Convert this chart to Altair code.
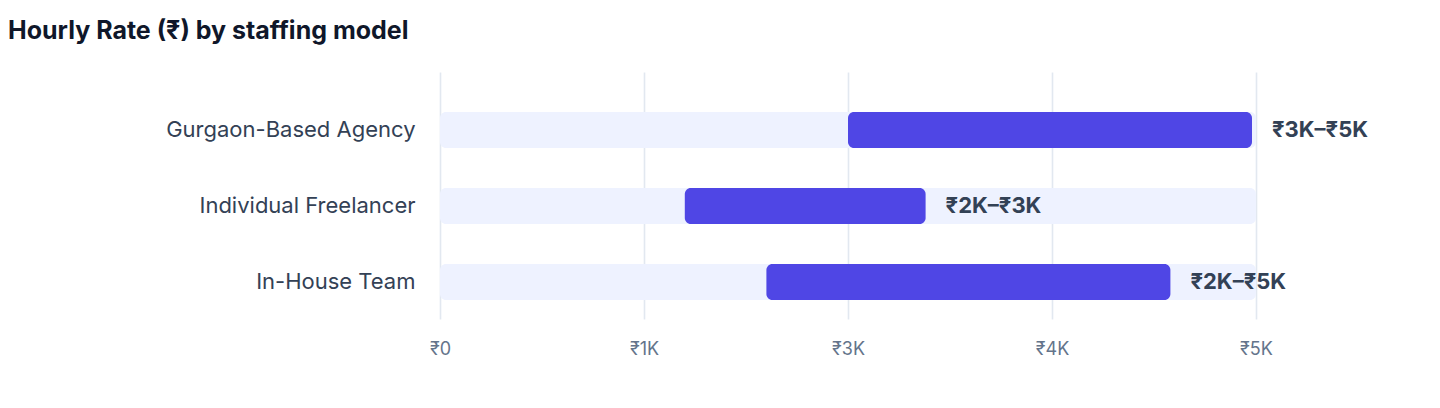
import altair as alt
import pandas as pd

# ---- data ----
models = ["Gurgaon-Based Agency", "Individual Freelancer", "In-House Team"]
rate_min = [2500, 1500, 2000]
rate_max = [5000, 3000, 4500]
range_labels = ["₹3K–₹5K", "₹2K–₹3K", "₹2K–₹5K"]
scale_max = 5000
tick_values = [0, 1250, 2500, 3750, 5000]

df = pd.DataFrame({
    "model": models,
    "lo": rate_min,
    "hi": rate_max,
    "label": range_labels,
    "zero": [0] * len(models),
    "full": [scale_max] * len(models),
})

FONT = "Inter"

xscale = alt.Scale(domain=[0, scale_max], nice=False, zero=True)
yenc = alt.Y(
    "model:N",
    sort=models,
    scale=alt.Scale(paddingInner=0.526, paddingOuter=0.388, align=0.678),
    axis=alt.Axis(
        title=None, ticks=False, domain=False, grid=False,
        labelFontSize=22, labelColor="#334155", labelPadding=25, labelFont=FONT,
        labelLimit=0,
    ),
)

xaxis = alt.Axis(
    title=None,
    values=tick_values,
    labelExpr="datum.value == 0 ? '₹0' : '₹' + round(datum.value / 1000) + 'K'",
    grid=True, gridColor="#E2E8F0", gridWidth=1.6,
    ticks=False, domain=False, labelFlush=False,
    labelFontSize=18, labelColor="#64748B", labelPadding=21, labelFont=FONT,
)

base = alt.Chart(df)

bg = base.mark_bar(color="#EEF2FF", cornerRadius=6).encode(
    x=alt.X("zero:Q", scale=xscale, axis=xaxis),
    x2="full:Q",
    y=yenc,
)

bars = base.mark_bar(color="#4F46E5", cornerRadius=6, x2Offset=-4).encode(
    x=alt.X("lo:Q", scale=xscale),
    x2="hi:Q",
    y=yenc,
)

text = base.mark_text(
    align="left", baseline="middle", dx=16, fontSize=22, fontWeight="bold",
    color="#334155", font=FONT,
).encode(
    x=alt.X("hi:Q", scale=xscale),
    y=yenc,
    text="label:N",
)

chart = (
    alt.layer(bg, bars, text)
    .properties(
        width=816,
        height=247,
        padding={"left": 432, "top": 64, "right": 170, "bottom": 70},
        autosize=alt.AutoSizeParams(type="none"),
        title=alt.TitleParams(
            "Hourly Rate (₹) by staffing model",
            anchor="start", frame="group", dx=-432, offset=28,
            fontSize=25, fontWeight="bold", color="#0F172A", font=FONT,
        ),
    )
    .configure_view(stroke=None)
)

chart.save("out.html", embed_options={"renderer": "svg", "actions": False})
